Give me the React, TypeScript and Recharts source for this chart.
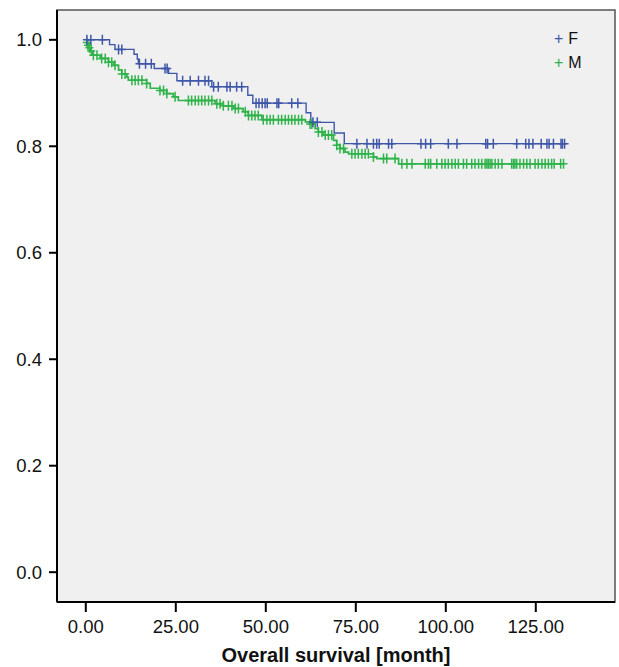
import React from "react";
import {
  ComposedChart, Line, Scatter, XAxis, YAxis, ReferenceArea,
} from "recharts";

// Kaplan-Meier steps: [month, survival] at each event time
const F_STEPS: [number, number][] = [
  [0, 1.0], [6.6, 0.991], [8.1, 0.982], [13.4, 0.973], [14.3, 0.964], [14.6, 0.955],
  [19.0, 0.946], [23.0, 0.937], [25.3, 0.923], [35.0, 0.912], [45.0, 0.896],
  [46.4, 0.881], [61.2, 0.863], [62.5, 0.845], [69.0, 0.825], [71.8, 0.805],
];
const F_END = 133.0;
const F_CENSORED = [
  0.3, 1.4, 4.6, 9.1, 10.0, 14.9, 16.6, 18.2, 22.0, 22.6, 26.9, 29.0, 31.3, 33.1, 34.1,
  35.5, 36.8, 39.2, 40.1, 41.9, 43.3, 47.3, 48.1, 49.0, 49.8, 50.4, 53.1, 53.6, 57.2,
  58.9, 63.1, 64.3, 75.3, 78.1, 79.9, 80.8, 81.5, 84.1, 85.0, 93.1, 94.4, 95.8, 100.7,
  103.1, 111.1, 111.6, 113.2, 119.7, 122.2, 123.1, 124.2, 126.5, 128.1, 128.7, 129.9,
  132.0, 132.4, 133.0,
];

const M_STEPS: [number, number][] = [
  [0, 1.0], [0.3, 0.995], [0.6, 0.99], [0.9, 0.985], [1.3, 0.979], [1.7, 0.974],
  [2.0, 0.971], [4.0, 0.965], [6.3, 0.958], [7.7, 0.952], [9.1, 0.943], [10.0, 0.936],
  [11.4, 0.93], [11.8, 0.924], [16.9, 0.918], [17.9, 0.909], [20.6, 0.905], [22.5, 0.899],
  [24.3, 0.893], [25.7, 0.886], [35.9, 0.88], [38.2, 0.876], [41.0, 0.871], [43.7, 0.865],
  [45.1, 0.858], [48.9, 0.85], [61.0, 0.846], [62.3, 0.842], [63.7, 0.833], [64.6, 0.827],
  [66.0, 0.821], [68.8, 0.811], [69.7, 0.802], [70.6, 0.796], [72.0, 0.789], [73.0, 0.786],
  [79.9, 0.78], [80.8, 0.777], [86.9, 0.767],
];
const M_END = 132.7;
const M_CENSORED = [
  0.3, 0.6, 1.0, 1.5, 2.1, 3.1, 4.4, 5.4, 6.3, 7.2, 8.1, 10.0, 10.9, 12.8, 13.7, 14.6,
  15.6, 16.9, 20.6, 21.6, 22.5, 24.8, 28.5, 29.4, 30.4, 31.3, 32.2, 33.1, 34.1, 35.0,
  36.4, 37.3, 38.2, 39.6, 40.6, 41.5, 42.4, 44.3, 45.2, 46.1, 47.0, 47.9, 49.3, 50.3,
  51.2, 52.1, 53.5, 54.4, 55.4, 56.3, 57.2, 58.1, 59.1, 60.0, 62.3, 62.8, 64.6, 65.6,
  66.5, 67.4, 68.3, 69.7, 70.6, 71.6, 73.9, 74.8, 75.7, 76.7, 77.6, 78.5, 79.9, 82.7,
  83.6, 85.9, 87.8, 89.2, 90.6, 94.3, 95.2, 95.8, 97.5, 98.9, 99.8, 100.7, 101.7, 102.6,
  103.5, 104.9, 105.8, 107.2, 108.1, 109.1, 110.0, 110.9, 111.4, 111.8, 112.3, 112.8,
  113.7, 114.6, 115.6, 118.3, 118.8, 119.2, 119.7, 120.6, 121.6, 122.5, 123.4, 124.8,
  125.7, 126.7, 127.6, 128.5, 129.4, 130.1, 131.9, 132.7,
];

const X_TICKS = [0, 25, 50, 75, 100, 125];
const Y_TICKS = [0, 0.2, 0.4, 0.6, 0.8, 1.0];
const X_DOMAIN: [number, number] = [-8, 147];
const Y_DOMAIN: [number, number] = [-0.056, 1.056];

const BLUE = "#3f57a8";
const GREEN = "#2fb34a";
const FONT = "Arial, 'Liberation Sans', sans-serif";

function survivalAt(steps: [number, number][], t: number) {
  let s = steps[0][1];
  for (const [st, sv] of steps) {
    if (t >= st) s = sv;
  }
  return s;
}

function lineData(steps: [number, number][], end: number) {
  const rows = steps.map(([t, s]) => ({ t, s }));
  rows.push({ t: end, s: steps[steps.length - 1][1] });
  return rows;
}

function censorData(steps: [number, number][], times: number[]) {
  return times.map((t) => ({ t, s: survivalAt(steps, t) }));
}

const plus = (color: string) => (props: any) => {
  const { cx, cy } = props;
  if (cx == null || cy == null) return <g />;
  return (
    <path
      d={`M${cx - 4},${cy}H${cx + 4}M${cx},${cy - 5}V${cy + 5}`}
      stroke={color}
      strokeWidth={1.5}
      fill="none"
    />
  );
};

export default function App() {
  const tick = { fontSize: 18.5, fill: "#111", fontFamily: FONT };
  return (
    <div style={{ position: "absolute", left: 0, top: 0, width: 619, height: 667, background: "#fff" }}>
      <ComposedChart width={619} height={667} margin={{ top: 10, right: 4, left: 0, bottom: 0 }}>
        <ReferenceArea
          x1={X_DOMAIN[0]} x2={X_DOMAIN[1]} y1={Y_DOMAIN[0]} y2={Y_DOMAIN[1]}
          fill="#f0f0f0" fillOpacity={1} stroke="#555" strokeWidth={1.5}
        />
        <XAxis
          type="number" dataKey="t" domain={X_DOMAIN} ticks={X_TICKS} allowDataOverflow
          tickFormatter={(v: number) => v.toFixed(2)} tick={tick}
          tickSize={10} tickMargin={8} height={65}
          axisLine={{ stroke: "#000", strokeWidth: 2 }} tickLine={{ stroke: "#000", strokeWidth: 2 }}
          label={{ value: "Overall survival [month]", position: "insideBottom", offset: 5,
            style: { fontSize: 20, fontWeight: "bold", fill: "#111", fontFamily: FONT } }}
        />
        <YAxis
          type="number" domain={Y_DOMAIN} ticks={Y_TICKS} allowDataOverflow
          tickFormatter={(v: number) => v.toFixed(1)} tick={tick}
          tickSize={8} tickMargin={7} width={57}
          axisLine={{ stroke: "#000", strokeWidth: 2 }} tickLine={{ stroke: "#000", strokeWidth: 2 }}
        />
        <Line data={lineData(M_STEPS, M_END)} dataKey="s" type="stepAfter" stroke={GREEN}
          strokeWidth={1.7} dot={false} isAnimationActive={false} />
        <Line data={lineData(F_STEPS, F_END)} dataKey="s" type="stepAfter" stroke={BLUE}
          strokeWidth={1.4} dot={false} isAnimationActive={false} />
        <Scatter data={censorData(M_STEPS, M_CENSORED)} dataKey="s" shape={plus(GREEN)}
          isAnimationActive={false} />
        <Scatter data={censorData(F_STEPS, F_CENSORED)} dataKey="s" shape={plus(BLUE)}
          isAnimationActive={false} />
      </ComposedChart>
      <div style={{ position: "absolute", left: 554, top: 27, fontFamily: FONT, fontSize: 16, color: "#111", lineHeight: "24px" }}>
        <div><span style={{ color: BLUE, marginRight: 5 }}>+</span>F</div>
        <div><span style={{ color: GREEN, marginRight: 5 }}>+</span>M</div>
      </div>
    </div>
  );
}
